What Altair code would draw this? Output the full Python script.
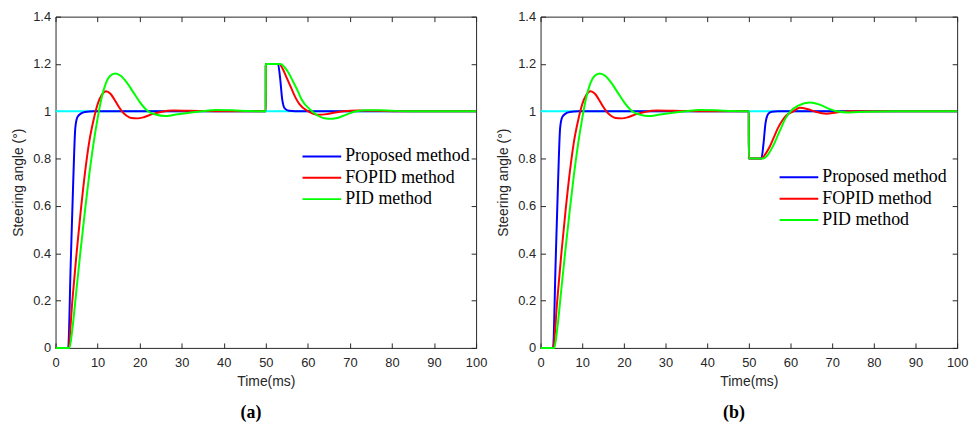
import altair as alt
import pandas as pd

# ---------------- data ----------------
x_ticks = [0, 10, 20, 30, 40, 50, 60, 70, 80, 90, 100]
y_ticks = [0, 0.2, 0.4, 0.6, 0.8, 1.0, 1.2, 1.4]
methods = ["Proposed method", "FOPID method", "PID method"]
colors = ["#0000FF", "#FF0000", "#00FF00"]
ref_t = [0, 100]
ref_v = [1.0, 1.0]

# panel (a): +0.2 disturbance at 50 ms
a_prop_t = [0, 3, 3.6, 4.2, 4.7, 5.2, 6, 7, 9, 49.99, 50, 52.9, 53.4, 53.9, 54.5, 55.5, 57, 100]
a_prop_v = [0, 0, 0.35, 0.7, 0.93, 0.975, 0.99, 0.997, 1.0, 1.0, 1.2, 1.2, 1.14, 1.05, 1.012, 1.002, 1.0, 1.0]
a_fopid_t = [0, 3, 4, 5, 6, 7, 8, 9, 10, 11, 12, 13, 14, 15, 16, 17, 18, 19.5, 21, 23, 25, 28, 32, 40,
             49.99, 50, 53.2, 54, 55, 56, 57, 58, 60, 62.4, 64.5, 66.5, 68.5, 72, 76, 82, 100]
a_fopid_v = [0, 0, 0.2, 0.4, 0.58, 0.74, 0.87, 0.96, 1.03, 1.07, 1.085, 1.075, 1.05, 1.02, 0.995, 0.98, 0.972, 0.97,
             0.975, 0.988, 0.997, 1.003, 1.002, 1.0,
             1.0, 1.2, 1.2, 1.18, 1.14, 1.1, 1.06, 1.03, 1.0, 0.985, 0.988, 0.995, 1.0, 1.003, 1.002, 1.0, 1.0]
a_pid_t = [0, 3.3, 4, 5, 6, 7, 8, 9, 10, 11, 12, 13, 14.2, 15.5, 17, 18.5, 20, 22, 24, 26, 28, 31, 35, 38, 42, 46,
           49.99, 50, 53.5, 54.5, 55.5, 56.5, 57.5, 58.5, 61, 62.5, 64.8, 67, 69, 71.5, 74, 77, 80, 85, 90, 100]
a_pid_v = [0, 0, 0.08, 0.25, 0.42, 0.58, 0.73, 0.86, 0.97, 1.06, 1.12, 1.15, 1.16, 1.15, 1.12, 1.08, 1.04, 1.0, 0.985,
           0.98, 0.984, 0.992, 1.0, 1.005, 1.004, 1.001,
           1.0, 1.2, 1.2, 1.185, 1.16, 1.125, 1.09, 1.05, 1.0, 0.98, 0.968, 0.972, 0.985, 1.0, 1.004, 1.004, 1.002,
           1.0, 1.0, 1.0]

# panel (b): -0.2 disturbance at 50 ms
b_prop_t = [0, 3, 3.6, 4.2, 4.7, 5.2, 6, 7, 9, 49.99, 50, 53.0, 53.5, 54, 54.7, 55.5, 57, 100]
b_prop_v = [0, 0, 0.35, 0.7, 0.93, 0.975, 0.99, 0.997, 1.0, 1.0, 0.8, 0.8, 0.86, 0.95, 0.99, 0.998, 1.0, 1.0]
b_fopid_t = [0, 3, 4, 5, 6, 7, 8, 9, 10, 11, 12, 13, 14, 15, 16, 17, 18, 19.5, 21, 23, 25, 28, 32, 40,
             49.99, 50, 53, 54, 55, 56, 57, 58, 59, 60.7, 62.2, 64, 66, 68.6, 71, 74, 100]
b_fopid_v = [0, 0, 0.2, 0.4, 0.58, 0.74, 0.87, 0.96, 1.03, 1.07, 1.085, 1.075, 1.05, 1.02, 0.995, 0.98, 0.972, 0.97,
             0.975, 0.988, 0.997, 1.003, 1.002, 1.0,
             1.0, 0.8, 0.8, 0.82, 0.85, 0.89, 0.93, 0.96, 0.982, 1.0, 1.015, 1.01, 0.998, 0.99, 0.995, 1.0, 1.0]
b_pid_t = [0, 3.3, 4, 5, 6, 7, 8, 9, 10, 11, 12, 13, 14.2, 15.5, 17, 18.5, 20, 22, 24, 26, 28, 31, 35, 38, 42, 46,
           49.99, 50, 53.3, 54.5, 56, 57.5, 58.8, 60, 62, 64.6, 67, 69, 71, 74, 78, 85, 100]
b_pid_v = [0, 0, 0.08, 0.25, 0.42, 0.58, 0.73, 0.86, 0.97, 1.06, 1.12, 1.15, 1.16, 1.15, 1.12, 1.08, 1.04, 1.0, 0.985,
           0.98, 0.984, 0.992, 1.0, 1.005, 1.004, 1.001,
           1.0, 0.8, 0.8, 0.815, 0.86, 0.92, 0.97, 1.0, 1.025, 1.037, 1.028, 1.012, 1.0, 0.995, 0.998, 1.0, 1.0]


def series_frame(pairs):
    rows = []
    for name, ts, vs in pairs:
        for t, v in zip(ts, vs):
            rows.append({"t": t, "v": v, "method": name})
    return pd.DataFrame(rows)


df_a = series_frame([(methods[0], a_prop_t, a_prop_v), (methods[1], a_fopid_t, a_fopid_v),
                     (methods[2], a_pid_t, a_pid_v)])
df_b = series_frame([(methods[0], b_prop_t, b_prop_v), (methods[1], b_fopid_t, b_fopid_v),
                     (methods[2], b_pid_t, b_pid_v)])
ref_df = pd.DataFrame({"t": ref_t, "v": ref_v})

AX = "#262626"
LABEL_FONT = "Liberation Sans"


def panel(df, W, H, caption, leg_x, leg_y):
    xs = alt.Scale(domain=[0, 100], nice=False)
    ys = alt.Scale(domain=[0, 1.4], nice=False)
    main_x = alt.Axis(orient="bottom", values=x_ticks, ticks=False, domain=False, grid=False,
                      labelFont=LABEL_FONT, labelFontSize=13, labelColor=AX, labelPadding=9,
                      title="Time(ms)", titleFont=LABEL_FONT, titleFontSize=14, titleFontWeight="normal",
                      titleColor=AX, titlePadding=5, labelFlush=False)
    main_y = alt.Axis(orient="left", values=y_ticks, ticks=False, domain=False, grid=False, format="~g",
                      labelFont=LABEL_FONT, labelFontSize=13, labelColor=AX, labelPadding=5,
                      title="Steering angle (°)", titleFont=LABEL_FONT, titleFontSize=14,
                      titleFontWeight="normal", titleColor=AX, titlePadding=7, labelFlush=False)

    def tick_axis(orient, values, offset):
        return alt.Axis(orient=orient, values=values, offset=offset, labels=False, domain=False, grid=False,
                        ticks=True, tickSize=5, tickColor=AX, tickWidth=1, title=None)

    ref = alt.Chart(ref_df).mark_line(color="#00FFFF", strokeWidth=2).encode(
        x=alt.X("t:Q", scale=xs, axis=main_x),
        y=alt.Y("v:Q", scale=ys, axis=main_y),
    )
    ticks_tr = alt.Chart(ref_df).mark_line(opacity=0).encode(
        x=alt.X("t:Q", scale=xs, axis=tick_axis("bottom", x_ticks, -H)),
        y=alt.Y("v:Q", scale=ys, axis=tick_axis("left", y_ticks, -W)),
    )
    lines = alt.Chart(df).mark_line(strokeWidth=2, interpolate="monotone").encode(
        x=alt.X("t:Q", scale=xs, axis=tick_axis("top", x_ticks, -H)),
        y=alt.Y("v:Q", scale=ys, axis=tick_axis("right", y_ticks, -W)),
        color=alt.Color("method:N", sort=methods,
                        scale=alt.Scale(domain=methods, range=colors),
                        legend=alt.Legend(orient="none", legendX=leg_x, legendY=leg_y, title=None,
                                          symbolType="stroke", symbolSize=1521, symbolStrokeWidth=2,
                                          labelFont="Liberation Serif", labelFontSize=18, labelColor="black",
                                          labelOffset=3, clipHeight=18, rowPadding=3.5, padding=0,
                                          labelLimit=300)),
    )
    return alt.layer(ref, ticks_tr, lines).resolve_axis(x="independent", y="independent").properties(
        width=W, height=H,
        title=alt.TitleParams(caption, orient="bottom", font="Liberation Serif", fontSize=18,
                              fontWeight="bold", color="black", dx=-15, offset=16),
    )


left = panel(df_a, 424, 334, "(a)", 248, 132)
right = panel(df_b, 420, 334, "(b)", 240, 153)

chart = alt.hconcat(left, right, spacing=8).resolve_scale(color="independent").resolve_legend(
    color="independent").configure(
    padding={"left": 11, "top": 8, "right": 5, "bottom": 5},
).configure_view(stroke=AX, strokeWidth=1)

chart.save("out.html", embed_options={"renderer": "svg", "actions": False})
